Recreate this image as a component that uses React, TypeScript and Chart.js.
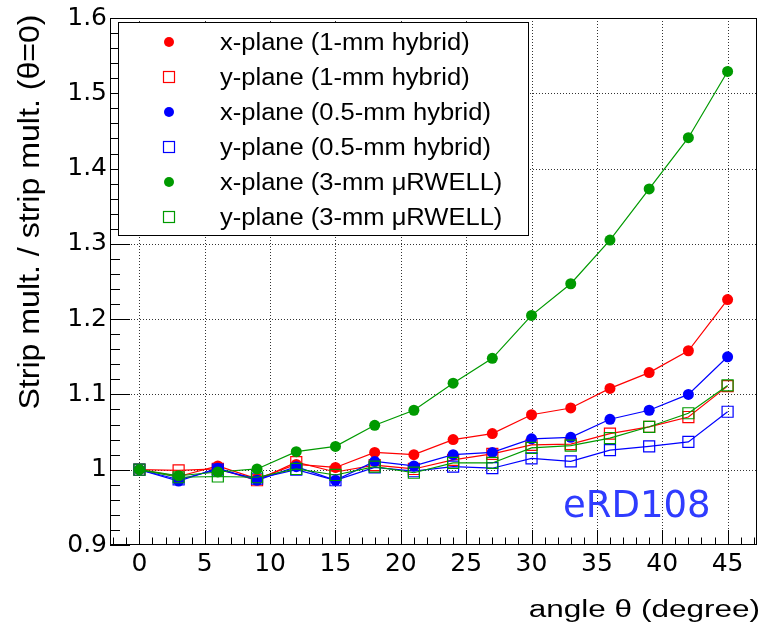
import React, { useEffect, useRef } from 'react';
import { Chart, registerables } from 'chart.js';

Chart.register(...registerables);

// ---- data ----
const angles = [0, 3, 6, 9, 12, 15, 18, 21, 24, 27, 30, 33, 36, 39, 42, 45];
const xPlane1mm = [1.0, 0.991, 1.005, 0.988, 1.007, 1.003, 1.023, 1.02, 1.04, 1.048, 1.073, 1.082, 1.108, 1.129, 1.158, 1.226];
const yPlane1mm = [1.0, 0.999, 1.001, 0.986, 1.01, 0.997, 1.006, 1.001, 1.013, 1.021, 1.033, 1.034, 1.048, 1.057, 1.07, 1.111];
const xPlaneHalfmm = [1.0, 0.985, 1.002, 0.986, 1.004, 0.986, 1.011, 1.005, 1.02, 1.023, 1.041, 1.043, 1.067, 1.079, 1.1, 1.15];
const yPlaneHalfmm = [1.0, 0.987, 1.0, 0.988, 1.0, 0.986, 1.003, 0.998, 1.004, 1.002, 1.015, 1.011, 1.026, 1.031, 1.037, 1.077];
const xPlaneRwell = [1.0, 0.992, 0.997, 1.001, 1.024, 1.031, 1.059, 1.079, 1.115, 1.148, 1.205, 1.247, 1.305, 1.373, 1.441, 1.529];
const yPlaneRwell = [1.0, 0.99, 0.991, 0.99, 1.001, 0.993, 1.004, 0.996, 1.009, 1.009, 1.029, 1.032, 1.042, 1.057, 1.075, 1.112];

const seriesLabels = [
  'x-plane (1-mm hybrid)',
  'y-plane (1-mm hybrid)',
  'x-plane (0.5-mm hybrid)',
  'y-plane (0.5-mm hybrid)',
  'x-plane (3-mm \u03bcRWELL)',
  'y-plane (3-mm \u03bcRWELL)',
];

const xTickValues = [0, 5, 10, 15, 20, 25, 30, 35, 40, 45];
const yTickValues = [0.9, 1.0, 1.1, 1.2, 1.3, 1.4, 1.5, 1.6];
const xTitle = 'angle \u03b8 (degree)';
const yTitle = 'Strip mult. / strip mult. (\u03b8=0)';
const watermark = 'eRD108';

// ---- styles ----
const RED = '#ff0000';
const BLUE = '#0000ff';
const GREEN = '#009a00';
const TEXT_FONT = '"Liberation Sans", Arial, sans-serif';
const MARK_FONT = '"DejaVu Sans", sans-serif';

const seriesValues = [xPlane1mm, yPlane1mm, xPlaneHalfmm, yPlaneHalfmm, xPlaneRwell, yPlaneRwell];
const seriesColors = [RED, RED, BLUE, BLUE, GREEN, GREEN];
const seriesFilled = [true, false, true, false, true, false];

const rootStyle = {
  id: 'rootStyle',
  beforeDatasetsDraw(chart: any) {
    const { ctx, chartArea: a } = chart;
    const xs = chart.scales.x;
    const ys = chart.scales.y;
    ctx.save();
    ctx.strokeStyle = '#333';
    ctx.lineWidth = 1;
    ctx.setLineDash([1, 2]);
    for (const v of xTickValues) {
      const px = Math.round(xs.getPixelForValue(v)) + 0.5;
      ctx.beginPath();
      ctx.moveTo(px, a.top);
      ctx.lineTo(px, a.bottom);
      ctx.stroke();
    }
    for (const v of yTickValues) {
      if (v <= ys.min || v >= ys.max) continue;
      const py = Math.round(ys.getPixelForValue(v)) + 0.5;
      ctx.beginPath();
      ctx.moveTo(a.left, py);
      ctx.lineTo(a.right, py);
      ctx.stroke();
    }
    ctx.restore();
  },
  afterDatasetsDraw(chart: any) {
    const { ctx, chartArea: a } = chart;
    const xs = chart.scales.x;
    const ys = chart.scales.y;
    ctx.save();
    // frame
    ctx.setLineDash([]);
    ctx.strokeStyle = '#000';
    ctx.lineWidth = 1;
    ctx.strokeRect(a.left + 0.5, a.top + 0.5, a.right - a.left - 1, a.bottom - a.top - 1);
    // x ticks (inside)
    ctx.beginPath();
    for (let v = Math.ceil(xs.min); v <= xs.max; v += 1) {
      const px = Math.round(xs.getPixelForValue(v)) + 0.5;
      const len = v % 5 === 0 ? 15 : 7.5;
      ctx.moveTo(px, a.bottom);
      ctx.lineTo(px, a.bottom - len);
    }
    // y ticks (inside)
    for (let i = 0; i <= 35; i++) {
      const v = ys.min + i * 0.02;
      const py = Math.round(ys.getPixelForValue(v)) + 0.5;
      const len = i % 5 === 0 ? 20 : 10;
      ctx.moveTo(a.left, py);
      ctx.lineTo(a.left + len, py);
    }
    ctx.stroke();

    // legend
    const lx = 118, ly = 22, lw = 410, lh = 213;
    ctx.fillStyle = '#fff';
    ctx.fillRect(lx, ly, lw, lh);
    ctx.strokeStyle = '#000';
    ctx.lineWidth = 1;
    ctx.strokeRect(lx + 0.5, ly + 0.5, lw, lh);
    chart.data.datasets.forEach((ds: any, i: number) => {
      const cy = 42 + i * 35;
      const mx = 169;
      if (ds.pointStyle === 'circle') {
        ctx.fillStyle = ds.borderColor;
        ctx.beginPath();
        ctx.arc(mx, cy, 5, 0, Math.PI * 2);
        ctx.fill();
      } else {
        ctx.strokeStyle = ds.borderColor;
        ctx.lineWidth = 1.2;
        ctx.strokeRect(mx - 5.5, cy - 5.5, 11, 11);
      }
      ctx.save();
      ctx.translate(220, cy + 8);
      ctx.scale(1.11, 1);
      ctx.fillStyle = '#000';
      ctx.font = '23px ' + TEXT_FONT;
      ctx.textAlign = 'left';
      ctx.textBaseline = 'alphabetic';
      ctx.fillText(ds.label, 0, 0);
      ctx.restore();
    });

    // watermark
    ctx.fillStyle = '#2f3cff';
    ctx.font = '37px ' + MARK_FONT;
    ctx.textAlign = 'left';
    ctx.textBaseline = 'alphabetic';
    ctx.fillText(watermark, 563, 517);

    // x title
    ctx.fillStyle = '#000';
    ctx.save();
    ctx.translate(760, 617);
    ctx.scale(1.37, 1);
    ctx.font = '23px ' + TEXT_FONT;
    ctx.textAlign = 'right';
    ctx.textBaseline = 'alphabetic';
    ctx.fillText(xTitle, 0, 0);
    ctx.restore();

    // y title
    ctx.save();
    ctx.translate(39, 212);
    ctx.rotate(-Math.PI / 2);
    ctx.scale(1.07, 1);
    ctx.font = '30px ' + TEXT_FONT;
    ctx.textAlign = 'center';
    ctx.textBaseline = 'alphabetic';
    ctx.fillText(yTitle, 0, 0);
    ctx.restore();

    ctx.restore();
  },
};

export default function App() {
  const ref = useRef<HTMLCanvasElement | null>(null);
  useEffect(() => {
    if (!ref.current) return;
    const datasets = seriesLabels.map((label, i) => ({
      label,
      data: angles.map((x, j) => ({ x, y: seriesValues[i][j] })),
      borderColor: seriesColors[i],
      backgroundColor: seriesColors[i],
      borderWidth: 1.2,
      showLine: true,
      tension: 0,
      pointStyle: seriesFilled[i] ? 'circle' : 'rect',
      pointRadius: seriesFilled[i] ? 5.5 : 7.8,
      pointBorderWidth: seriesFilled[i] ? 0 : 1.2,
      pointBackgroundColor: seriesFilled[i] ? seriesColors[i] : 'rgba(0,0,0,0)',
      pointBorderColor: seriesColors[i],
      order: seriesLabels.length - 1 - i,
      clip: false as any,
    }));
    const chart = new Chart(ref.current, {
      type: 'line',
      data: { datasets },
      options: {
        animation: false,
        responsive: false,
        devicePixelRatio: 1,
        layout: { padding: { top: 16, right: 7, left: 0, bottom: 0 } },
        plugins: { legend: { display: false }, tooltip: { enabled: false } },
        scales: {
          x: {
            type: 'linear',
            min: -2.25,
            max: 47.25,
            afterBuildTicks: (s: any) => {
              s.ticks = xTickValues.map((v) => ({ value: v }));
            },
            afterFit: (s: any) => {
              s.height = 83;
            },
            grid: { display: false, drawTicks: false },
            border: { display: false },
            ticks: {
              font: { family: 'DejaVu Sans', size: 25 },
              color: '#000',
              padding: 4,
              maxRotation: 0,
              autoSkip: false,
              callback: (v: any) => String(v),
            },
          },
          y: {
            type: 'linear',
            min: 0.9,
            max: 1.6,
            afterBuildTicks: (s: any) => {
              s.ticks = yTickValues.map((v) => ({ value: v }));
            },
            afterFit: (s: any) => {
              s.width = 110;
            },
            grid: { display: false, drawTicks: false },
            border: { display: false },
            ticks: {
              font: { family: 'DejaVu Sans', size: 25 },
              color: '#000',
              padding: 3,
              autoSkip: false,
              callback: (v: any) => (Math.abs(Number(v) - 1) < 1e-9 ? '1' : Number(v).toFixed(1)),
            },
          },
        },
      },
      plugins: [rootStyle],
    });
    return () => chart.destroy();
  }, []);
  return (
    <div style={{ position: 'absolute', left: 0, top: 0, width: 766, height: 628, background: '#fff' }}>
      <canvas ref={ref} width={766} height={628} style={{ display: 'block' }} />
    </div>
  );
}
